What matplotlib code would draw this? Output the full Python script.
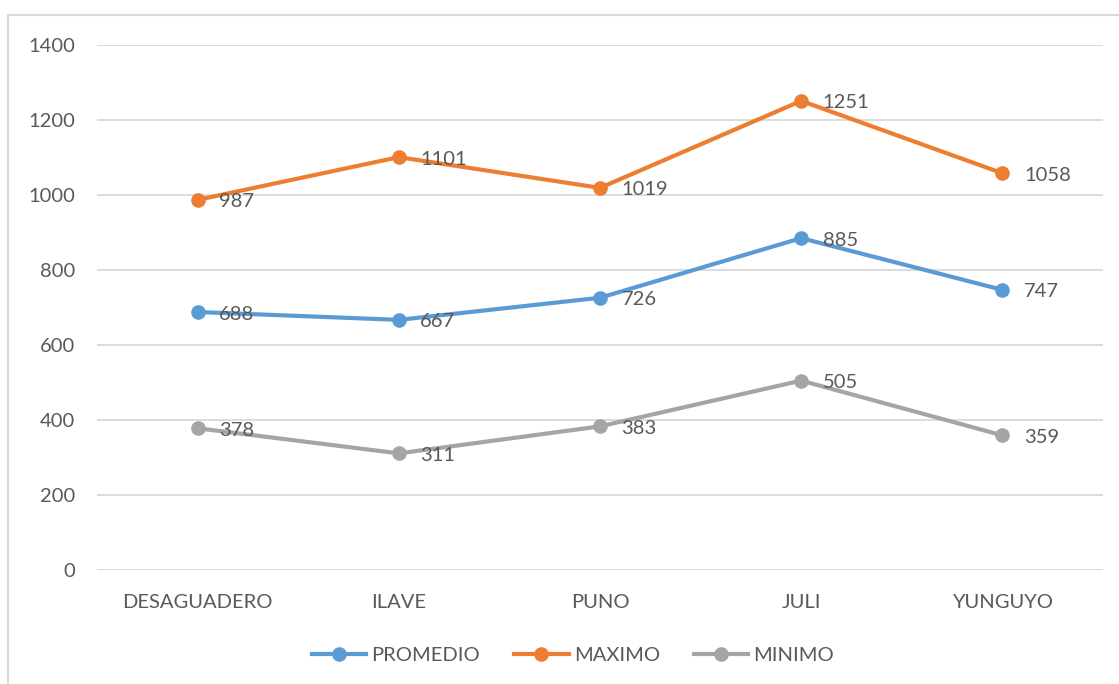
import matplotlib.pyplot as plt
from matplotlib.patches import Rectangle
from matplotlib.lines import Line2D

categories = ["DESAGUADERO", "ILAVE", "PUNO", "JULI", "YUNGUYO"]
promedio = [688, 667, 726, 885, 747]
maximo = [987, 1101, 1019, 1251, 1058]
minimo = [378, 311, 383, 505, 359]

series_names = ["PROMEDIO", "MAXIMO", "MINIMO"]
colors = ["#5B9BD5", "#ED7D31", "#A5A5A5"]
text_color = "#595959"

plt.rcParams['font.family'] = ['Lato', 'DejaVu Sans']

fig = plt.figure(figsize=(11.19, 6.84), dpi=100)
W, H = 1119, 684
ax = fig.add_axes([97 / W, 1 - 570 / H, (1103 - 97) / W, (570 - 45) / H])

# chart border (Excel style)
fig.patches.append(Rectangle((8 / W, -0.05), 1.2, 1 - 15 / H + 0.05,
                             transform=fig.transFigure, fill=False,
                             edgecolor="#D9D9D9", linewidth=1.5))

x = list(range(len(categories)))
for name, vals, c in zip(series_names, [promedio, maximo, minimo], colors):
    ax.plot(x, vals, color=c, linewidth=3, marker="o", markersize=9.5,
            solid_capstyle="round", label=name, zorder=3)
    for xi, v in zip(x, vals):
        ax.annotate(str(v), (xi, v), xytext=(15.5, -1.5), textcoords="offset points",
                    ha="left", va="center", fontsize=14.5, color=text_color, zorder=4)

ax.set_xlim(-0.5, 4.5)
ax.set_ylim(0, 1400)
ax.set_yticks(range(0, 1401, 200))
ax.set_xticks(x)
ax.set_xticklabels(categories)
ax.grid(axis="y", color="#D9D9D9", linewidth=1.3)
ax.set_axisbelow(True)
for s in ax.spines.values():
    s.set_visible(False)
ax.tick_params(axis="both", length=0, labelsize=14.5, labelcolor=text_color)
ax.tick_params(axis="y", pad=16)
ax.tick_params(axis="x", pad=17)

handles = [Line2D([], [], color=c, linewidth=3, marker="o", markersize=9.5)
           for c in colors]
leg = fig.legend(handles, series_names, loc="center", bbox_to_anchor=(573 / W, 1 - 655 / H),
                 ncol=3, frameon=False, fontsize=14.5, handlelength=2.7,
                 handletextpad=0.25, columnspacing=1.7)
for t in leg.get_texts():
    t.set_color(text_color)

fig.savefig("out.png", dpi=100, facecolor="white")
